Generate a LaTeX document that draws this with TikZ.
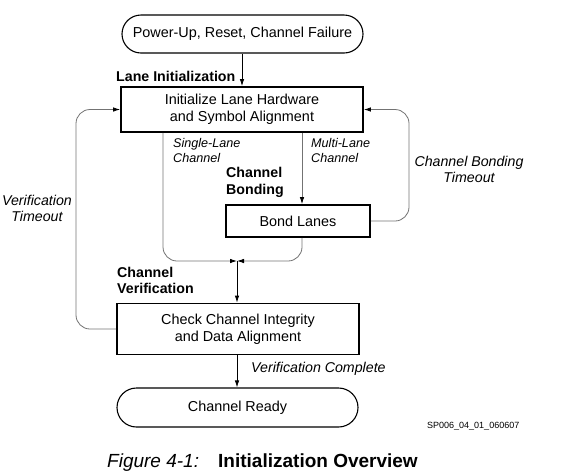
\documentclass[tikz,border=0pt]{standalone}
\usepackage{fontspec}
\setmainfont{Liberation Sans}
\usetikzlibrary{arrows.meta,shapes.misc}
\begin{document}
\begin{tikzpicture}[x=1pt,y=-1pt,
  mainfont/.style={font=\fontsize{14.4}{16.8}\selectfont},
  box/.style={draw, line width=1.8pt, align=center, inner sep=0pt, mainfont},
  term/.style={draw, line width=1.1pt, rounded rectangle, align=center, inner sep=0pt, mainfont},
  lbl/.style={inner sep=0pt, font=\fontsize{14.2}{16.8}\selectfont\itshape, align=center},
  blbl/.style={inner sep=0pt, font=\fontsize{14.2}{16.8}\selectfont\bfseries, align=left, anchor=west},
  slbl/.style={inner sep=0pt, font=\fontsize{12.6}{15}\selectfont\itshape, align=left, anchor=west},
  tip/.style={-{Latex[length=7pt,width=4.5pt,color=black]}},
  arr/.style={tip, line width=0.8pt, draw=black},
  garr/.style={tip, line width=0.8pt, draw=black!55, rounded corners=14pt},
]
\useasboundingbox (0,0) rectangle (562,475);

% nodes
\node[term, minimum width=241pt, minimum height=38pt] (top) at (242.5,34) {Power-Up, Reset, Channel Failure};
\node[box, minimum width=242pt, minimum height=45pt] (lane) at (242,109.5) {Initialize Lane Hardware\\and Symbol Alignment};
\node[box, minimum width=144pt, minimum height=32pt] (bond) at (298,221) {Bond Lanes};
\node[box, minimum width=242pt, minimum height=51pt] (check) at (238,329) {Check Channel Integrity\\and Data Alignment};
\node[term, minimum width=241pt, minimum height=39pt] (ready) at (237.5,407.5) {Channel Ready};

% helper coordinates
\coordinate (sl) at (163,0);
\coordinate (ml) at (302,0);
\coordinate (m) at (237,261);
\coordinate (vt) at (76,0);
\coordinate (bt) at (409,0);

% connectors
\draw[arr] (top.south -| lane.north) -- (lane.north);
\draw[garr] (sl |- lane.south) |- (m);
\draw[garr] (ml |- lane.south) -- (ml |- bond.north);
\draw[garr] (ml |- bond.south) |- (m);
\draw[arr] (m) -- (m |- check.north);
\draw[garr] (check.west) -| (vt |- lane.west) -- (lane.west);
\draw[garr] (bond.east) -| (bt |- lane.east) -- (lane.east);
\draw[arr] (check.south -| m) -- (m |- ready.north);

% labels
\node[blbl] (lli) at (116,76) {Lane Initialization};
\node[slbl] (slc) at (173,150.5) {Single-Lane\\Channel};
\node[slbl] (mlc) at (311,150.5) {Multi-Lane\\Channel};
\node[blbl] (cb) at (226,182.5) {Channel\\Bonding};
\node[lbl] (cbt) at (469,169.5) {Channel Bonding\\Timeout};
\node[lbl] (vto) at (37,208.5) {Verification\\Timeout};
\node[blbl] (cv) at (117,280.5) {Channel\\Verification};
\node[lbl, anchor=west] (vc) at (251,369) {Verification Complete};
\node[inner sep=0pt, anchor=west, font=\fontsize{9}{10}\selectfont] (sp) at (427,426) {SP006\_04\_01\_060607};
\node[inner sep=0pt, anchor=base west, font=\fontsize{19}{22}\selectfont\itshape] (fig) at (107,467) {Figure 4-1:};
\node[inner sep=0pt, anchor=base west, font=\fontsize{19}{22}\selectfont\bfseries] (cap) at (218,467) {Initialization Overview};
\end{tikzpicture}
\end{document}
